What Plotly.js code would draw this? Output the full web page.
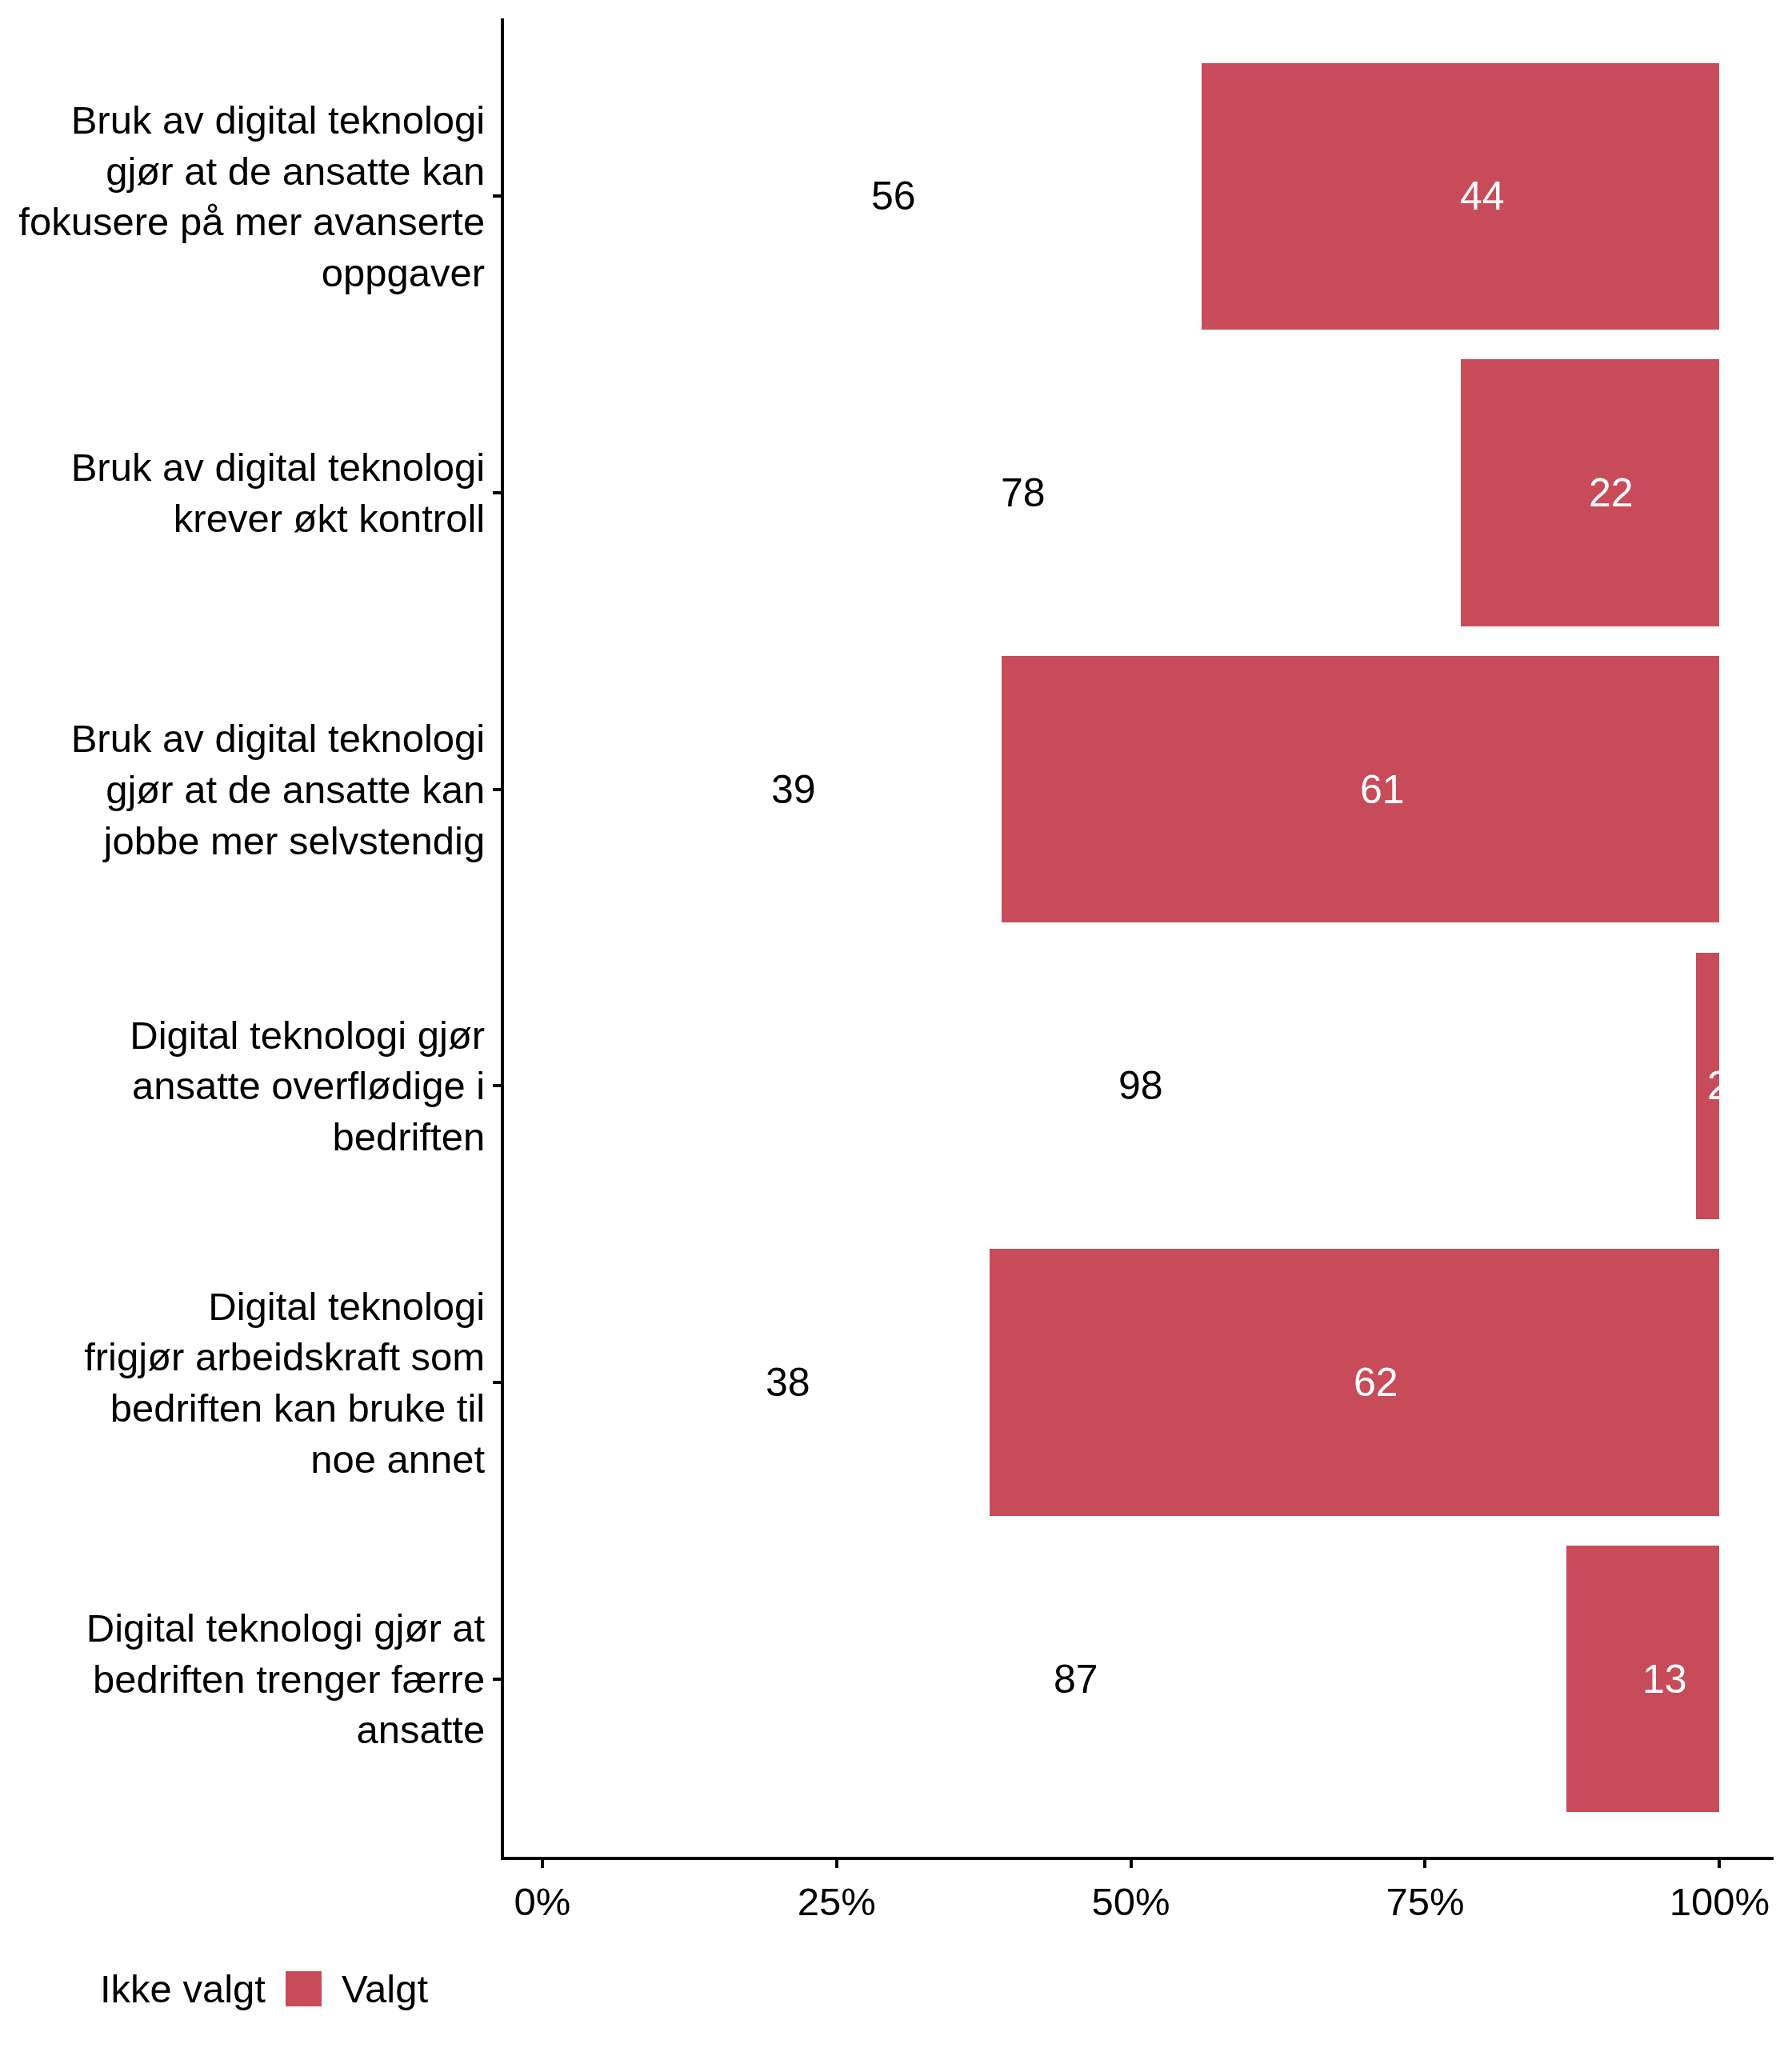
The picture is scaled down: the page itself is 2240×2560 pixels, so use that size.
<!DOCTYPE html>
<html>
<head>
<meta charset="utf-8">
<script src="https://cdn.plot.ly/plotly-3.0.1.min.js"></script>
<style>html,body{margin:0;padding:0;background:#fff;}</style>
</head>
<body>
<div id="chart" style="width:2240px;height:2560px;"></div>
<script>
const categories = [
  "Bruk av digital teknologi<br>gjør at de ansatte kan<br>fokusere på mer avanserte<br>oppgaver",
  "Bruk av digital teknologi<br>krever økt kontroll",
  "Bruk av digital teknologi<br>gjør at de ansatte kan<br>jobbe mer selvstendig",
  "Digital teknologi gjør<br>ansatte overflødige i<br>bedriften",
  "Digital teknologi<br>frigjør arbeidskraft som<br>bedriften kan bruke til<br>noe annet",
  "Digital teknologi gjør at<br>bedriften trenger færre<br>ansatte"
];
const ikkeValgt = [56, 78, 39, 98, 38, 87];
const valgt = [44, 22, 61, 2, 62, 13];
const seriesNames = ["Ikke valgt", "Valgt"];
const tickVals = [0, 25, 50, 75, 100];
const tickLabels = ["0%", "25%", "50%", "75%", "100%"];

const RED = "#C84B5A";
const FONT = "'Liberation Sans', Arial, Helvetica, sans-serif";

const traces = [
  {
    type: "bar", orientation: "h", name: seriesNames[0],
    y: categories, x: ikkeValgt,
    marker: {color: "#FFFFFF", line: {width: 0}},
    hoverinfo: "x+name", showlegend: false
  },
  {
    type: "bar", orientation: "h", name: seriesNames[1],
    y: categories, x: valgt,
    marker: {color: RED, line: {width: 0}},
    hoverinfo: "x+name", showlegend: false
  }
];

const annotations = [];
categories.forEach((c, i) => {
  annotations.push({
    x: ikkeValgt[i] / 2, y: c, xref: "x", yref: "y",
    text: String(ikkeValgt[i]), showarrow: false,
    xanchor: "left", yanchor: "middle", xshift: -3,
    font: {family: FONT, size: 50, color: "#000000"}
  });
  annotations.push({
    x: ikkeValgt[i] + valgt[i] / 2, y: c, xref: "x", yref: "y",
    text: String(valgt[i]), showarrow: false,
    xanchor: "left", yanchor: "middle", xshift: -3,
    font: {family: FONT, size: 50, color: "#FFFFFF"}
  });
});
// legend labels
annotations.push({
  x: 0, y: 0, xref: "paper", yref: "paper", text: seriesNames[0], showarrow: false,
  xanchor: "left", yanchor: "middle", xshift: -507, yshift: -165,
  font: {family: FONT, size: 49, color: "#000000"}
});
annotations.push({
  x: 0, y: 0, xref: "paper", yref: "paper", text: seriesNames[1], showarrow: false,
  xanchor: "left", yanchor: "middle", xshift: -205, yshift: -165,
  font: {family: FONT, size: 49, color: "#000000"}
});

const layout = {
  width: 2240, height: 2560,
  margin: {l: 630, r: 23, t: 23, b: 239, pad: 0},
  paper_bgcolor: "#FFFFFF", plot_bgcolor: "#FFFFFF",
  barmode: "stack", bargap: 0.1,
  showlegend: false,
  font: {family: FONT, size: 49, color: "#000000"},
  xaxis: {
    range: [-3.26, 104.6], tickmode: "array", tickvals: tickVals, ticktext: tickLabels,
    showgrid: false, zeroline: false,
    showline: true, linecolor: "#000000", linewidth: 4,
    ticks: "outside", ticklen: 10, tickwidth: 4, tickcolor: "#000000",
    tickfont: {family: FONT, size: 49, color: "#000000"},
    fixedrange: true
  },
  yaxis: {
    type: "category", categoryorder: "array", categoryarray: categories,
    range: [5.6, -0.6],
    showgrid: false, zeroline: false,
    showline: true, linecolor: "#000000", linewidth: 4,
    ticks: "outside", ticklen: 10, tickwidth: 4, tickcolor: "#000000",
    tickfont: {family: FONT, size: 49, color: "#000000"},
    fixedrange: true
  },
  shapes: [{
    type: "rect", xref: "paper", yref: "paper",
    xsizemode: "pixel", ysizemode: "pixel", xanchor: 0, yanchor: 0,
    x0: -273, x1: -228, y0: -187, y1: -143,
    fillcolor: RED, line: {width: 0}
  }],
  annotations: annotations
};

Plotly.newPlot("chart", traces, layout, {displayModeBar: false, staticPlot: true});
</script>
</body>
</html>
